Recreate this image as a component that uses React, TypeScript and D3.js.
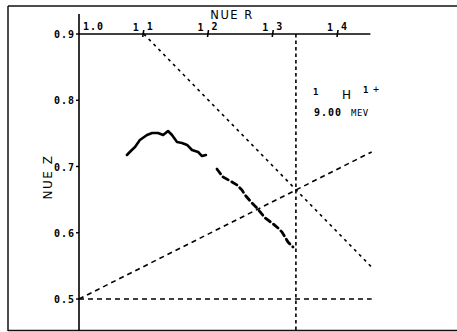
import React from "react";
import * as d3 from "d3";

// curve: NUE R vs NUE Z
const nueR1 = [1.074, 1.080, 1.0865, 1.094, 1.105, 1.113, 1.122, 1.130, 1.1375, 1.1436, 1.1514, 1.159, 1.167, 1.1745, 1.184, 1.190, 1.196];
const nueZ1 = [0.7174, 0.7234, 0.7294, 0.740, 0.7475, 0.7506, 0.7506, 0.7475, 0.7536, 0.7475, 0.737, 0.7355, 0.7325, 0.7249, 0.7219, 0.7158, 0.7174];
const nueR2 = [1.213, 1.2224, 1.2363, 1.244, 1.2517, 1.2564, 1.2672, 1.2749, 1.2873, 1.2981, 1.3073, 1.3135, 1.3228, 1.3305];
const nueZ2 = [0.6962, 0.6842, 0.6766, 0.6721, 0.6645, 0.657, 0.6449, 0.6374, 0.6223, 0.6147, 0.6072, 0.6011, 0.586, 0.5785];

const xTicks = [1.0, 1.1, 1.2, 1.3, 1.4];
const yTicks = [0.9, 0.8, 0.7, 0.6, 0.5];

// resonance / guide lines [x1, y1, x2, y2]
const guideVertical = [1.335, 0.9, 1.335, 0.452];
const guideHorizontal = [1.0, 0.5, 1.452, 0.5];
const guideRising = [1.0, 0.5, 1.452, 0.722];
const guideFalling = [1.1, 0.9, 1.452, 0.548];

const W = 457, H = 332;

export default function App() {
  const x = d3.scaleLinear().domain([1.0, 1.4]).range([79, 338]);
  const y = d3.scaleLinear().domain([0.5, 0.9]).range([299, 34]);

  const line = d3.line<[number, number]>()
    .x(d => x(d[0]))
    .y(d => y(d[1]))
    .curve(d3.curveLinear);

  const seg1 = nueR1.map((r, i) => [r, nueZ1[i]] as [number, number]);
  const seg2 = nueR2.map((r, i) => [r, nueZ2[i]] as [number, number]);

  const guide = (g: number[], dash: string, key: string) => (
    <line key={key} x1={x(g[0])} y1={y(g[1])} x2={x(g[2])} y2={y(g[3])}
      stroke="#000" strokeWidth={1.6} strokeDasharray={dash} />
  );

  const font = "'DejaVu Sans Mono', monospace";
  const x0 = x(1.0);

  return (
    <div style={{ position: "fixed", left: 0, top: 0 }}>
      <svg width={W} height={H} style={{ display: "block", background: "#fff" }}>
        {/* frame */}
        <line x1={8} y1={6} x2={457} y2={6} stroke="#111" strokeWidth={1.5} />
        <line x1={8} y1={6} x2={8} y2={331} stroke="#111" strokeWidth={1.5} />
        <line x1={8} y1={330.5} x2={457} y2={330.5} stroke="#111" strokeWidth={1.5} />

        {/* axes */}
        <line x1={x0} y1={14} x2={x0} y2={331} stroke="#000" strokeWidth={1.6} />
        <line x1={x0} y1={y(0.9)} x2={x(1.45)} y2={y(0.9)} stroke="#000" strokeWidth={1.6} />

        {yTicks.map(t => (
          <g key={t}>
            <line x1={x0 - 3} y1={y(t)} x2={x0} y2={y(t)} stroke="#000" strokeWidth={1.4} />
            <text x={x0 - 4} y={y(t) + 4} textAnchor="end" fontFamily={font}
              fontSize={10} fontWeight="bold" letterSpacing={1}>{t.toFixed(1)}</text>
          </g>
        ))}

        {xTicks.map(t => {
          if (t === 1.0) {
            return <text key={t} x={x0 + 4} y={y(0.9) - 4} fontFamily={font}
              fontSize={10} fontWeight="bold" letterSpacing={1}>1.0</text>;
          }
          const s = t.toFixed(1).split(".");
          return (
            <g key={t}>
              <line x1={x(t)} y1={y(0.9) - 4} x2={x(t) - 1} y2={y(0.9) + 3} stroke="#000" strokeWidth={1.6} />
              <text x={x(t) - 5} y={y(0.9) - 3} textAnchor="end" fontFamily={font}
                fontSize={10} fontWeight="bold">{s[0]}</text>
              <text x={x(t) + 3} y={y(0.9) - 4} fontFamily={font}
                fontSize={10} fontWeight="bold">{s[1]}</text>
            </g>
          );
        })}

        {/* axis titles */}
        <text x={232} y={19} textAnchor="middle" fontFamily="'DejaVu Sans', sans-serif"
          fontSize={11.5} letterSpacing={1.5}>NUE R</text>
        <text transform="translate(52,177) rotate(-90)" textAnchor="middle"
          fontFamily="'DejaVu Sans', sans-serif" fontSize={12} letterSpacing={1.5}>NUE Z</text>

        {/* guide lines */}
        {guide(guideVertical, "3.5,3", "v")}
        {guide(guideHorizontal, "5,4", "h")}
        {guide(guideRising, "5,4", "r")}
        {guide(guideFalling, "3,4", "f")}

        {/* data curve */}
        <path d={line(seg1) ?? ""} fill="none" stroke="#000" strokeWidth={2.6} strokeLinejoin="round" strokeLinecap="round" />
        <path d={line(seg2) ?? ""} fill="none" stroke="#000" strokeWidth={2.8} strokeDasharray="6,4" strokeLinecap="round" />

        {/* annotation */}
        <text x={313} y={95} fontFamily={font} fontSize={9} fontWeight="bold">1</text>
        <text x={342} y={99} fontFamily="'DejaVu Sans', sans-serif" fontSize={12}>H</text>
        <text x={363} y={93} fontFamily={font} fontSize={9} fontWeight="bold">1</text>
        <text x={373} y={93} fontFamily={font} fontSize={10}>+</text>
        <text x={314} y={116} fontFamily={font} fontSize={10} fontWeight="bold" letterSpacing={1}>9.00</text>
        <text x={351} y={116} fontFamily={font} fontSize={9} letterSpacing={0.5}>MEV</text>
      </svg>
    </div>
  );
}
